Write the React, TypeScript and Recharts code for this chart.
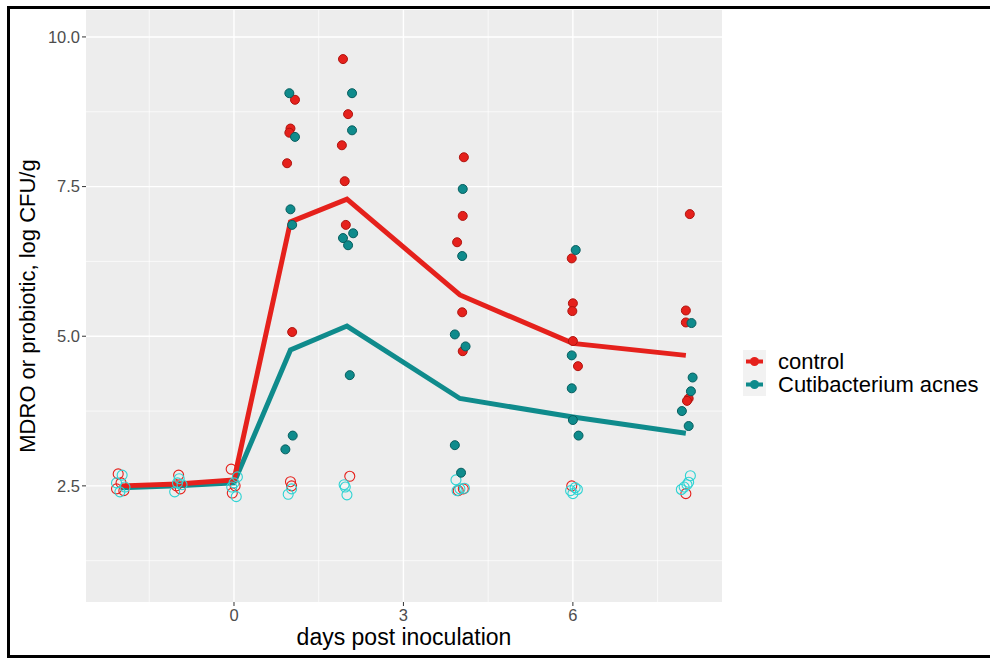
import React from "react";
import {
  ComposedChart,
  Line,
  Scatter,
  XAxis,
  YAxis,
  CartesianGrid,
  Legend
} from "recharts";

// group means (days post inoculation)
const days = [-2, -1, 0, 1, 2, 4, 6, 8];
const controlMean = [2.5, 2.53, 2.6, 6.91, 7.29, 5.69, 4.88, 4.68];
const acnesMean = [2.47, 2.5, 2.55, 4.77, 5.17, 3.96, 3.65, 3.38];

// individual samples above detection limit (x jittered)
const controlX = [1.08, 1.0, 0.98, 0.94, 1.03, 1.93, 2.02, 1.91, 1.96, 1.98, 4.07, 4.05, 3.95, 4.04, 4.05, 5.98, 6.0, 5.99, 6.0, 6.09, 8.07, 8.0, 8.0, 8.05, 8.02];
const controlY = [8.95, 8.47, 8.4, 7.89, 5.07, 9.63, 8.71, 8.19, 7.59, 6.86, 7.99, 7.01, 6.57, 5.4, 4.75, 6.3, 5.55, 5.42, 4.92, 4.5, 7.04, 5.43, 5.23, 3.96, 3.92];
const acnesX = [0.98, 1.08, 1.0, 1.03, 1.04, 0.91, 2.09, 2.09, 1.93, 2.11, 2.02, 2.05, 4.05, 4.04, 3.91, 4.1, 3.91, 4.02, 6.05, 5.98, 5.98, 6.0, 6.1, 8.1, 8.12, 8.09, 7.93, 8.05];
const acnesY = [9.06, 8.33, 7.12, 6.86, 3.34, 3.11, 9.06, 8.44, 6.64, 6.72, 6.52, 4.35, 7.46, 6.34, 5.03, 4.83, 3.18, 2.72, 6.44, 4.68, 4.13, 3.6, 3.34, 5.22, 4.31, 4.08, 3.75, 3.5];

// samples at detection limit (open circles)
const controlLodX = [-2.05, -2.0, -1.95, -2.08, -0.98, -1.02, -0.95, -0.05, 0.02, -0.03, 1.0, 1.02, 2.05, 3.97, 4.06, 5.98, 8.0];
const controlLodY = [2.7, 2.55, 2.42, 2.45, 2.68, 2.5, 2.45, 2.78, 2.5, 2.38, 2.57, 2.5, 2.66, 2.42, 2.45, 2.5, 2.37];
const acnesLodX = [-1.98, -2.08, -1.93, -2.02, -0.97, -1.05, -0.92, -1.0, 0.06, -0.04, 0.04, 0.0, 0.96, 1.02, 1.95, 2.0, 1.97, 3.93, 4.0, 4.08, 3.95, 5.96, 6.04, 6.0, 6.08, 8.08, 8.05, 7.97, 8.02, 7.92];
const acnesLodY = [2.68, 2.55, 2.48, 2.4, 2.62, 2.4, 2.52, 2.55, 2.65, 2.48, 2.32, 2.55, 2.36, 2.45, 2.52, 2.35, 2.48, 2.6, 2.45, 2.46, 2.42, 2.42, 2.47, 2.37, 2.44, 2.67, 2.56, 2.48, 2.52, 2.44];

const xTicks = [0, 3, 6];
const xMinor = [-1.5, 1.5, 4.5, 7.5];
const yTicks = [2.5, 5, 7.5, 10];
const yMinor = [1.25, 3.75, 6.25, 8.75];
const legendNames = ["control", "Cutibacterium acnes"];

const RED = "#E5211C";
const TEAL = "#0F8B8C";
const CYAN = "#2ED3D3";
const FONT = "'Liberation Sans', Arial, sans-serif";

const pts = (xs: number[], ys: number[]) => xs.map((x, i) => ({ x, y: ys[i] }));
const meanRows = (ys: number[]) => days.map((x, i) => ({ x, y: ys[i] }));

const filledDot = (fill: string, stroke: string) => (p: any) => (
  <circle cx={p.cx} cy={p.cy} r={4.5} fill={fill} stroke={stroke} strokeWidth={1} />
);
const openDot = (stroke: string) => (p: any) => (
  <circle cx={p.cx} cy={p.cy} r={5} fill="none" stroke={stroke} strokeWidth={1.1} />
);

const YTitle = () => (
  <text
    x={27}
    y={306}
    transform="rotate(-90 27 306)"
    textAnchor="middle"
    dominantBaseline="central"
    fontSize={22}
    fontFamily={FONT}
    fill="#000"
  >
    MDRO or probiotic, log CFU/g
  </text>
);

const XTitle = () => (
  <text x={404} y={637} textAnchor="middle" dominantBaseline="central" fontSize={23} fontFamily={FONT} fill="#000">
    days post inoculation
  </text>
);

const LegendBox = () => (
  <div style={{ fontFamily: FONT, fontSize: 22, color: "#000" }}>
    {legendNames.map((name, i) => {
      const c = i === 0 ? RED : TEAL;
      return (
        <div key={name} style={{ display: "flex", alignItems: "center", height: 23, whiteSpace: "nowrap" }}>
          <svg width={23} height={23} style={{ marginRight: 12 }}>
            <rect x={0} y={0} width={23} height={23} fill="#F2F2F2" />
            <line x1={3} y1={11.5} x2={20} y2={11.5} stroke={c} strokeWidth={4} />
            <circle cx={11.5} cy={11.5} r={4.5} fill={c} />
          </svg>
          <span>{name}</span>
        </div>
      );
    })}
  </div>
);

export default function App() {
  return (
    <div style={{ position: "absolute", left: 0, top: 0, width: 990, height: 658, background: "#fff", overflow: "hidden" }}>
      <ComposedChart
        width={990}
        height={658}
        margin={{ top: 10, right: 21, bottom: 26, left: 26 }}
      >
        <CartesianGrid
          fill="#EDEDED"
          stroke="#fff"
          strokeWidth={0.7}
          horizontalValues={yMinor}
          verticalValues={xMinor}
        />
        <CartesianGrid
          stroke="#fff"
          strokeWidth={1.4}
          horizontalValues={yTicks}
          verticalValues={xTicks}
        />
        <XAxis
          type="number"
          dataKey="x"
          domain={[-2.62, 8.64]}
          ticks={xTicks}
          allowDataOverflow
          height={30}
          axisLine={false}
          tickLine={{ stroke: "#333" }}
          tickSize={4}
          tickMargin={3}
          tick={{ fill: "#4D4D4D", fontSize: 16.5, fontFamily: FONT }}
          label={<XTitle />}
        />
        <YAxis
          type="number"
          dataKey="y"
          domain={[0.56, 10.45]}
          ticks={yTicks}
          allowDataOverflow
          width={60}
          axisLine={false}
          tickLine={{ stroke: "#333" }}
          tickSize={4}
          tickMargin={2}
          tickFormatter={(v: number) => v.toFixed(1)}
          tick={{ fill: "#4D4D4D", fontSize: 16.5, fontFamily: FONT }}
          label={<YTitle />}
        />
        <Line data={meanRows(acnesMean)} dataKey="y" stroke={TEAL} strokeWidth={5} dot={false} activeDot={false} isAnimationActive={false} />
        <Line data={meanRows(controlMean)} dataKey="y" stroke={RED} strokeWidth={5} dot={false} activeDot={false} isAnimationActive={false} />
        <Scatter data={pts(controlLodX, controlLodY)} shape={openDot(RED)} isAnimationActive={false} />
        <Scatter data={pts(acnesLodX, acnesLodY)} shape={openDot(CYAN)} isAnimationActive={false} />
        <Scatter data={pts(controlX, controlY)} shape={filledDot(RED, "#B0140F")} isAnimationActive={false} />
        <Scatter data={pts(acnesX, acnesY)} shape={filledDot(TEAL, "#075E5F")} isAnimationActive={false} />
        <Legend
          layout="vertical"
          align="right"
          verticalAlign="middle"
          content={<LegendBox />}
          wrapperStyle={{ left: 743, top: 350, width: 247 }}
        />
      </ComposedChart>
      <div
        style={{
          position: "absolute",
          left: 7,
          top: 6,
          width: 990,
          height: 646,
          borderTop: "3px solid #000",
          borderLeft: "3px solid #000",
          borderBottom: "3px solid #000",
          pointerEvents: "none"
        }}
      />
    </div>
  );
}
